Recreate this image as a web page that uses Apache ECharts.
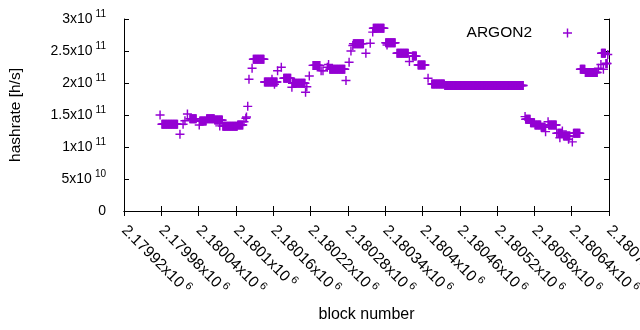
<!DOCTYPE html>
<html><head><meta charset="utf-8">
<script src="https://cdn.jsdelivr.net/npm/echarts@6/dist/echarts.min.js"></script>
<style>html,body{margin:0;padding:0;background:#fff}#c{width:640px;height:330px}</style>
</head><body><div id="c"></div>
<script>
const seriesName = 'ARGON2';
// Runs of consecutive blocks read at (about) the same hashrate [h/s]
const runStartBlock = [2179978,2179981,2180010,2180015,2180018,2180022,2180026,2180041,2180042,2180053,2180066,2180074,2180079,2180103,2180113,2180116,2180117,2180119,2180121,2180126,2180128,2180146,2180158,2180162,2180167,2180173,2180177,2180190,2180191,2180212,2180214,2180218,2180224,2180237,2180240,2180247,2180249,2180251,2180277,2180282,2180285,2180288,2180289,2180309,2180316,2180320,2180321,2180341,2180343,2180359,2180379,2180384,2180393,2180409,2180415,2180436,2180565,2180566,2180574,2180581,2180591,2180598,2180602,2180603,2180616,2180618,2180625,2180621,2180627,2180635,2180641,2180643,2180654,2180662,2180683,2180687,2180688,2180691,2180695,2180698];
const runEndBlock   = [2179978,2180006,2180010,2180015,2180018,2180022,2180036,2180041,2180052,2180065,2180078,2180074,2180102,2180111,2180113,2180116,2180117,2180119,2180121,2180126,2180145,2180166,2180158,2180162,2180167,2180173,2180188,2180190,2180211,2180212,2180214,2180218,2180235,2180237,2180240,2180247,2180249,2180275,2180277,2180282,2180285,2180288,2180305,2180309,2180316,2180320,2180338,2180356,2180343,2180377,2180379,2180390,2180404,2180409,2180435,2180562,2180565,2180573,2180580,2180590,2180597,2180598,2180602,2180615,2180616,2180624,2180625,2180621,2180637,2180635,2180641,2180653,2180661,2180681,2180683,2180687,2180694,2180691,2180697,2180698];
const runHashrate   = [1.50e11,1.355e11,1.20e11,1.355e11,1.41e11,1.515e11,1.44e11,1.345e11,1.405e11,1.44e11,1.42e11,1.33e11,1.325e11,1.345e11,1.395e11,1.45e11,1.47e11,1.635e11,2.06e11,2.23e11,2.37e11,2.015e11,2.06e11,1.98e11,2.19e11,2.245e11,2.075e11,1.935e11,1.995e11,1.855e11,1.94e11,2.11e11,2.275e11,2.19e11,2.19e11,2.245e11,2.29e11,2.215e11,2.04e11,2.325e11,2.50e11,2.585e11,2.615e11,2.465e11,2.62e11,2.795e11,2.855e11,2.63e11,2.595e11,2.465e11,2.335e11,2.42e11,2.28e11,2.075e11,1.985e11,1.96e11,1.475e11,1.435e11,1.38e11,1.345e11,1.31e11,1.24e11,1.395e11,1.345e11,1.215e11,1.215e11,1.25e11,1.145e11,1.17e11,1.12e11,1.08e11,1.215e11,2.215e11,2.165e11,2.23e11,2.29e11,2.465e11,2.215e11,2.305e11,2.445e11];

const xTickLabels = ['2.17992','2.17998','2.18004','2.1801','2.18016','2.18022','2.18028','2.18034','2.1804','2.18046','2.18052','2.18058','2.18064','2.1807'];
const xTickExponent = '6';
const yTickMantissas = ['0','5x10','1x10','1.5x10','2x10','2.5x10','3x10'];
const yTickExponents = ['','10','11','11','11','11','11'];
const xMin = 2179920, xMax = 2180700, xStep = 60;
const yMin = 0, yMax = 3e11, yStep = 5e10;

const points = [];
for (let i = 0; i < runStartBlock.length; i++) {
  for (let b = runStartBlock[i]; b <= runEndBlock[i]; b++) points.push([b, runHashrate[i]]);
}

const FONT = '"Liberation Sans", Arial, sans-serif';
const COLOR = '#9400d3';
const PLUS = 'path://M42,0H58V42H100V58H58V100H42V58H0V42H42Z';

const chart = echarts.init(document.getElementById('c'), null, {renderer: 'canvas'});
const axisLine = {show: true, lineStyle: {color: '#000', width: 1}};
const axisTick = {show: true, inside: true, length: 5, lineStyle: {color: '#000', width: 1}};
chart.setOption({
  animation: false,
  backgroundColor: '#fff',
  textStyle: {fontFamily: FONT, color: '#000'},
  grid: {left: 124, right: 31, top: 19, bottom: 119, containLabel: false, outerBoundsMode: 'none'},
  legend: {
    data: [seriesName], right: 63, top: 20, align: 'right',
    icon: PLUS, itemWidth: 9, itemHeight: 9,
    textStyle: {fontFamily: FONT, fontSize: 15.5, color: '#000', padding: [0, 26, 0, 0]}
  },
  xAxis: [{
    type: 'value', position: 'bottom', min: xMin, max: xMax, interval: xStep,
    name: 'block number', nameLocation: 'middle', nameGap: 96,
    nameTextStyle: {fontFamily: FONT, fontSize: 16, color: '#000'},
    axisLine, axisTick, splitLine: {show: false},
    axisLabel: {
      show: true, rotate: -45, margin: 17, showMinLabel: true, showMaxLabel: true, hideOverlap: false,
      formatter: v => {
        const i = Math.round((v - xMin) / xStep);
        return '{m|' + xTickLabels[i] + 'x10}{s|' + xTickExponent + '}';
      },
      rich: {
        m: {fontFamily: FONT, fontSize: 15.5, color: '#000', lineHeight: 20},
        s: {fontFamily: FONT, fontSize: 11, color: '#000', lineHeight: 10, verticalAlign: 'top', padding: [0, 0, 0, 3]}
      }
    }
  }, {
    type: 'value', position: 'top', min: xMin, max: xMax, interval: xStep,
    axisLine, axisTick, axisLabel: {show: false}, splitLine: {show: false}
  }],
  yAxis: [{
    type: 'value', position: 'left', min: yMin, max: yMax, interval: yStep,
    name: 'hashrate [h/s]', nameLocation: 'middle', nameGap: 100,
    nameTextStyle: {fontFamily: FONT, fontSize: 15.5, color: '#000'},
    axisLine, axisTick, splitLine: {show: false},
    axisLabel: {
      show: true, margin: 18, showMinLabel: true, showMaxLabel: true,
      formatter: v => {
        const i = Math.round((v - yMin) / yStep);
        if (!yTickExponents[i]) return '{m|' + yTickMantissas[i] + '}';
        return '{m|' + yTickMantissas[i] + '}{s|' + yTickExponents[i] + '}';
      },
      rich: {
        m: {fontFamily: FONT, fontSize: 14, color: '#000', lineHeight: 20},
        s: {fontFamily: FONT, fontSize: 10, color: '#000', lineHeight: 10, verticalAlign: 'top', padding: [0, 0, 0, 3]}
      }
    }
  }, {
    type: 'value', position: 'right', min: yMin, max: yMax, interval: yStep,
    axisLine, axisTick, axisLabel: {show: false}, splitLine: {show: false}
  }],
  series: [{
    name: seriesName, type: 'scatter', xAxisIndex: 0, yAxisIndex: 0,
    symbol: PLUS, symbolSize: 9, data: points,
    itemStyle: {color: COLOR, opacity: 1}, emphasis: {disabled: true}
  }]
});
</script>
</body></html>
